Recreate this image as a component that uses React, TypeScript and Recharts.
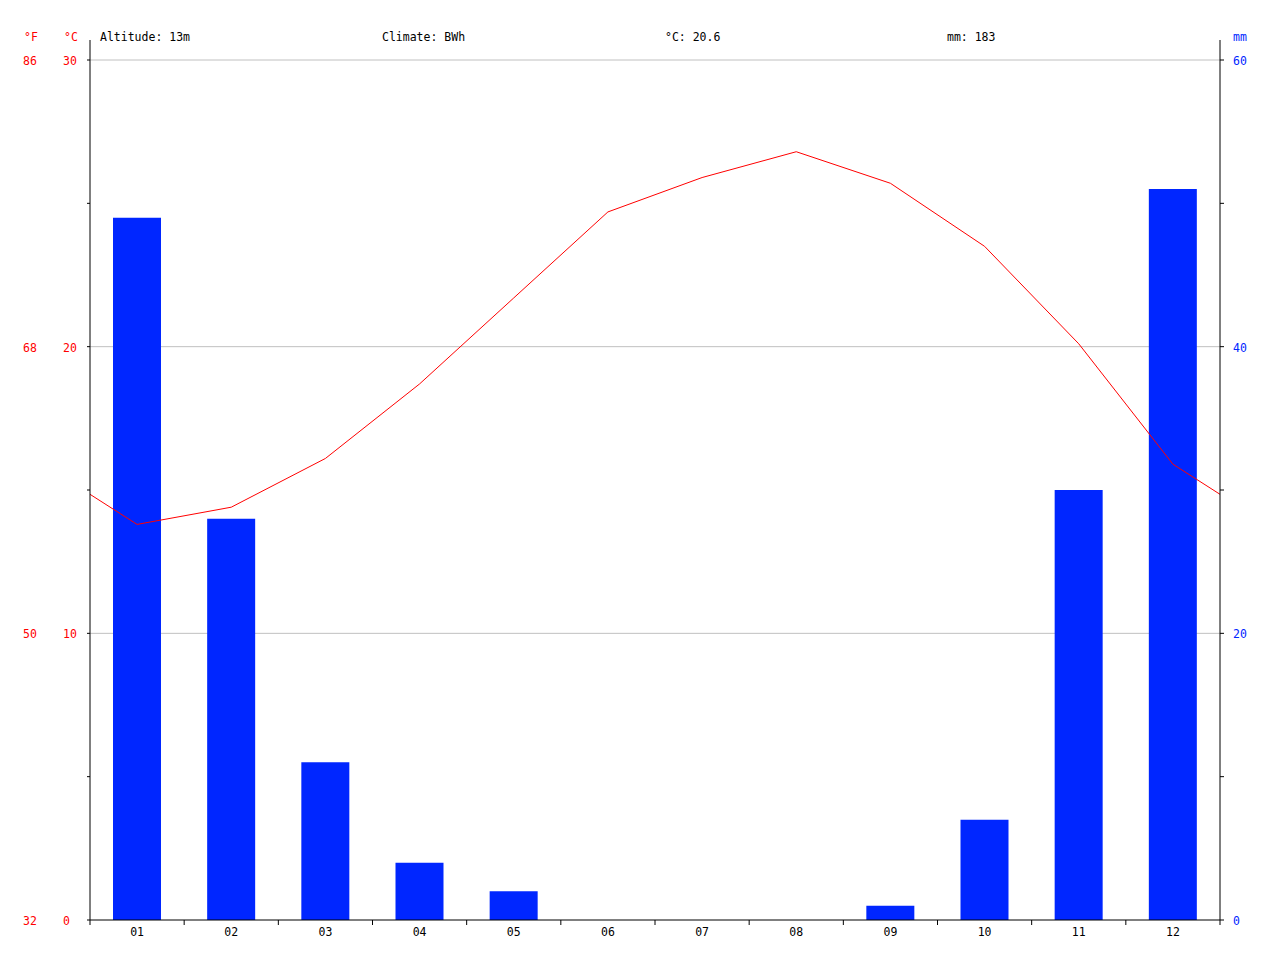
import React from "react";
import { ComposedChart, Bar, Line, XAxis, YAxis, CartesianGrid } from "recharts";

const months = ["01", "02", "03", "04", "05", "06", "07", "08", "09", "10", "11", "12"];
const temperatureC = [13.8, 14.4, 16.1, 18.7, 21.7, 24.7, 25.9, 26.8, 25.7, 23.5, 20.1, 15.9];
const precipitationMm = [49, 28, 11, 4, 2, 0, 0, 0, 1, 7, 30, 51];
const tempTicks = [0, 5, 10, 15, 20, 25, 30];
const tempLabelTicks = [0, 10, 20, 30];
const precipTicks = [0, 10, 20, 30, 40, 50, 60];
const precipLabelTicks = [0, 20, 40, 60];
const gridValues = [10, 20, 30];
const altitudeText = "Altitude: 13m";
const climateText = "Climate: BWh";

const RED = "#ff0000";
const BLUE = "#0026ff";
const FONT = "'DejaVu Sans Mono', monospace";
const FS = 11.5;

const n = months.length;
const monthData = months.map((m, i) => ({ x: i + 1, t: temperatureC[i], p: precipitationMm[i] }));
// wrap-around: previous December before January, next January after December (clipped at plot edges)
const lineData = [{ x: 0, t: temperatureC[n - 1] }, ...monthData, { x: n + 1, t: temperatureC[0] }];
const xTicks: number[] = [];
for (let i = 0; i <= 2 * n; i++) xTicks.push(0.5 + i * 0.5);

const avgTemp = temperatureC.reduce((a, b) => a + b, 0) / n;
const totalPrecip = precipitationMm.reduce((a, b) => a + b, 0);

const XTick = (props: any) => {
  const { x, y, payload } = props;
  const v = payload.value;
  if (Number.isInteger(v)) {
    return (
      <text x={x} y={y + 12} textAnchor="middle" dominantBaseline="central" fill="#000" fontFamily={FONT} fontSize={FS}>
        {months[v - 1]}
      </text>
    );
  }
  return <line x1={x} y1={y} x2={x} y2={y + 5} stroke="#000" strokeWidth={1} />;
};

const TTick = (props: any) => {
  const { x, y, payload } = props;
  const v = payload.value;
  if (!tempLabelTicks.includes(v)) return <g />;
  return (
    <g>
      <text x={x - 24} y={y + 1} dominantBaseline="central" textAnchor="start" fill={RED} fontFamily={FONT} fontSize={FS}>
        {v}
      </text>
      <text x={x - 64} y={y + 1} dominantBaseline="central" textAnchor="start" fill={RED} fontFamily={FONT} fontSize={FS}>
        {Math.round((v * 9) / 5 + 32)}
      </text>
    </g>
  );
};

const PTick = (props: any) => {
  const { x, y, payload } = props;
  const v = payload.value;
  if (!precipLabelTicks.includes(v)) return <g />;
  return (
    <text x={x + 9} y={y + 1} dominantBaseline="central" textAnchor="start" fill={BLUE} fontFamily={FONT} fontSize={FS}>
      {v}
    </text>
  );
};

const headerStyle = (left: number, color: string): React.CSSProperties => ({
  position: "absolute",
  left,
  top: 30,
  lineHeight: "14px",
  fontFamily: FONT,
  fontSize: FS,
  color,
  whiteSpace: "pre",
});

export default function App() {
  const tTop = (30 * 880) / 860;
  const pTop = (60 * 880) / 860;
  return (
    <div style={{ position: "absolute", left: 0, top: 0, width: 1280, height: 960, background: "#fff" }}>
      <ComposedChart
        width={1280}
        height={960}
        data={monthData}
        margin={{ top: 40, right: 0, bottom: 0, left: 0 }}
        style={{ fontFamily: FONT }}
      >
        <CartesianGrid
          yAxisId="t"
          vertical={false}
          horizontalValues={gridValues}
          stroke="#c0c0c0"
          strokeWidth={1}
        />
        <XAxis
          type="number"
          dataKey="x"
          domain={[0.5, n + 0.5]}
          ticks={xTicks}
          interval={0}
          tickSize={0}
          tickMargin={0}
          tickLine={false}
          axisLine={{ stroke: "#000" }}
          tick={<XTick />}
          height={40}
          allowDataOverflow
        />
        <YAxis
          yAxisId="t"
          orientation="left"
          width={90}
          domain={[0, tTop]}
          ticks={tempTicks}
          interval={0}
          tickSize={3}
          tickMargin={0}
          tickLine={{ stroke: "#000" }}
          axisLine={{ stroke: "#000" }}
          tick={<TTick />}
          allowDataOverflow
        />
        <YAxis
          yAxisId="p"
          orientation="right"
          width={60}
          domain={[0, pTop]}
          ticks={precipTicks}
          interval={0}
          tickSize={4}
          tickMargin={0}
          tickLine={{ stroke: "#000" }}
          axisLine={{ stroke: "#000" }}
          tick={<PTick />}
          allowDataOverflow
        />
        <Bar yAxisId="p" dataKey="p" fill={BLUE} barSize={48} isAnimationActive={false} />
        <Line
          yAxisId="t"
          data={lineData}
          dataKey="t"
          type="linear"
          stroke={RED}
          strokeWidth={1}
          dot={false}
          activeDot={false}
          isAnimationActive={false}
        />
      </ComposedChart>
      <div style={headerStyle(24, RED)}>°F</div>
      <div style={headerStyle(64, RED)}>°C</div>
      <div style={headerStyle(100, "#000")}>{altitudeText}</div>
      <div style={headerStyle(382, "#000")}>{climateText}</div>
      <div style={headerStyle(665, "#000")}>{`°C: ${avgTemp.toFixed(1)}`}</div>
      <div style={headerStyle(947, "#000")}>{`mm: ${totalPrecip}`}</div>
      <div style={headerStyle(1233, BLUE)}>mm</div>
    </div>
  );
}
